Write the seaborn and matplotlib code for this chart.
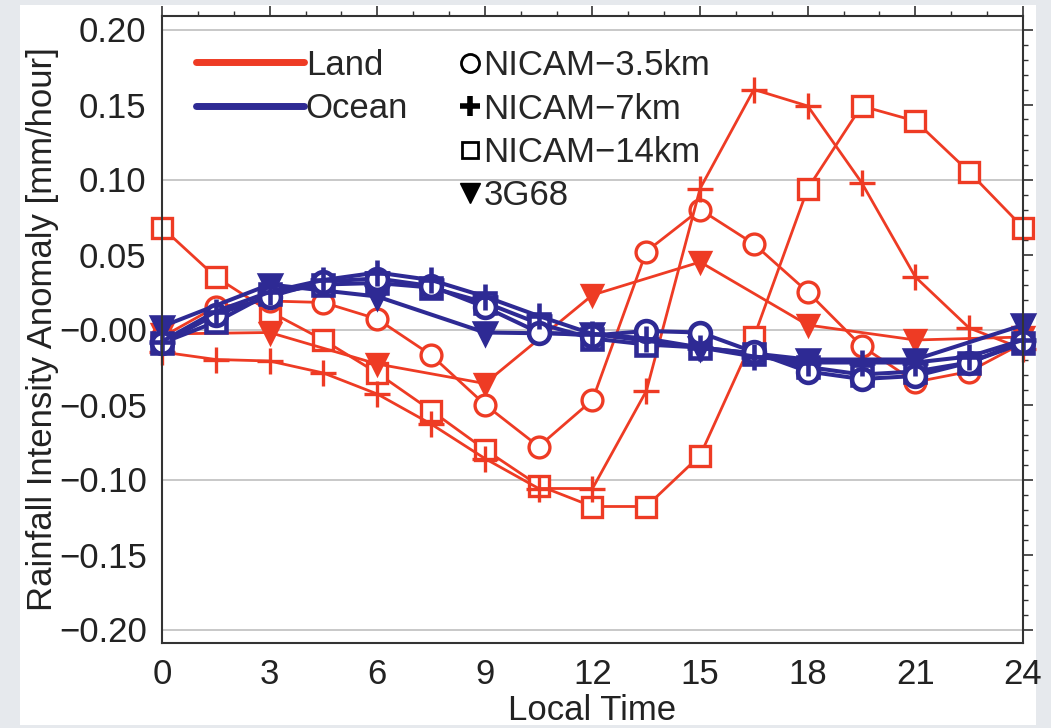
import numpy as np
import pandas as pd
import matplotlib
matplotlib.use('Agg')
import matplotlib.pyplot as plt
import seaborn as sns
from matplotlib.lines import Line2D
from matplotlib.patches import Rectangle
from matplotlib.ticker import MultipleLocator, FixedLocator

# -------------------------------------------------------
# Data
# -------------------------------------------------------
hours = [0, 1.5, 3, 4.5, 6, 7.5, 9, 10.5, 12, 13.5, 15, 16.5, 18, 19.5, 21, 22.5, 24]
hours_3h = [0, 3, 6, 9, 12, 15, 18, 21, 24]   # 3G68 is 3-hourly

land_nicam35 = [-0.005, 0.015, 0.019, 0.018, 0.007, -0.017, -0.050, -0.078, -0.047,
                0.052, 0.080, 0.057, 0.025, -0.011, -0.035, -0.028, -0.009]
land_nicam7 = [-0.015, -0.020, -0.021, -0.029, -0.043, -0.063, -0.086, -0.106, -0.106,
               -0.041, 0.094, 0.160, 0.149, 0.098, 0.035, 0.001, -0.013]
land_nicam14 = [0.068, 0.035, 0.012, -0.007, -0.029, -0.054, -0.080, -0.104, -0.118,
                -0.118, -0.084, -0.005, 0.094, 0.149, 0.139, 0.105, 0.068]
land_3g68 = [-0.003, -0.002, -0.023, -0.036, 0.023, 0.045, 0.003, -0.007, -0.005]

ocean_nicam35 = [-0.009, 0.010, 0.022, 0.032, 0.034, 0.029, 0.015, -0.002, -0.004,
                 -0.001, -0.002, -0.015, -0.028, -0.033, -0.031, -0.022, -0.008]
ocean_nicam7 = [-0.008, 0.012, 0.025, 0.033, 0.038, 0.033, 0.022, 0.009, -0.003,
                -0.006, -0.012, -0.018, -0.022, -0.022, -0.022, -0.018, -0.007]
ocean_nicam14 = [-0.009, 0.005, 0.024, 0.030, 0.031, 0.028, 0.018, 0.004, -0.006,
                 -0.010, -0.012, -0.016, -0.025, -0.030, -0.028, -0.022, -0.009]
ocean_3g68 = [0.002, 0.030, 0.022, -0.002, -0.003, -0.012, -0.020, -0.020, 0.003]

surfaces = ['Land', 'Ocean']
models = ['NICAM\u22123.5km', 'NICAM\u22127km', 'NICAM\u221214km', '3G68']
model_hours = [hours, hours, hours, hours_3h]
series = {
    'Land': [land_nicam35, land_nicam7, land_nicam14, land_3g68],
    'Ocean': [ocean_nicam35, ocean_nicam7, ocean_nicam14, ocean_3g68],
}

yticks = [-0.20, -0.15, -0.10, -0.05, 0.0, 0.05, 0.10, 0.15, 0.20]
ytick_labels = ['\u22120.20', '\u22120.15', '\u22120.10', '\u22120.05', '\u22120.00',
                '0.05', '0.10', '0.15', '0.20']
xticks = [0, 3, 6, 9, 12, 15, 18, 21, 24]

rows = []
for s in surfaces:
    for m, hrs, vals in zip(models, model_hours, series[s]):
        for h, v in zip(hrs, vals):
            rows.append({'surface': s, 'model': m, 'hour': h, 'anomaly': v})
df = pd.DataFrame(rows)

# -------------------------------------------------------
# Styles
# -------------------------------------------------------
sns.set_style('white')
plt.rcParams['font.family'] = ['Liberation Sans', 'DejaVu Sans']
FS = 25

colors = {'Land': '#ee3b24', 'Ocean': '#2e2a94'}
line_w = {'Land': 2.0, 'Ocean': 2.9}
edge_w = {'Land': 2.4, 'Ocean': 3.3}
marker_style = {
    models[0]: dict(marker='o', ms=15, filled=False, z=6),
    models[1]: dict(marker='+', ms=19, filled=True, z=7),
    models[2]: dict(marker='s', ms=14, filled=False, z=4),
    models[3]: dict(marker='v', ms=15, filled=True, z=5),
}

fig = plt.figure(figsize=(10.51, 7.28), dpi=100)
fig.patch.set_facecolor('#e6e9ed')
fig.patches.append(Rectangle((20 / 1051, 3 / 728), 1016 / 1051, 720 / 728,
                             transform=fig.transFigure, facecolor='white',
                             edgecolor='none', zorder=-10))
ax = fig.add_axes([162 / 1051, 85 / 728, 861 / 1051, 627 / 728])
ax.set_zorder(1)

for s in surfaces:
    c = colors[s]
    base = 0 if s == 'Land' else 10
    for m in models:
        st = marker_style[m]
        sub = df[(df['surface'] == s) & (df['model'] == m)]
        sns.lineplot(data=sub, x='hour', y='anomaly', ax=ax, color=c,
                     lw=line_w[s], marker=st['marker'], markersize=st['ms'],
                     markerfacecolor=c if st['filled'] else 'white',
                     markeredgecolor=c, markeredgewidth=edge_w[s],
                     zorder=base + st['z'], clip_on=False, legend=False)

# -------------------------------------------------------
# Axes formatting
# -------------------------------------------------------
ax.set_xlim(0, 24)
ax.set_ylim(-0.209, 0.209)
ax.xaxis.set_major_locator(FixedLocator(xticks))
ax.xaxis.set_minor_locator(MultipleLocator(1))
ax.yaxis.set_major_locator(FixedLocator(yticks))
ax.yaxis.set_minor_locator(MultipleLocator(0.01))
ax.set_yticklabels(ytick_labels)
ax.set_xticklabels([str(t) for t in xticks])

for y in [-0.2, -0.1, 0.0, 0.1, 0.2]:
    ax.axhline(y, color='#c8c8c8', lw=1.4, zorder=1)

ax.tick_params(which='both', direction='out', top=True, right=True,
               labeltop=False, labelright=False, color='#333333',
               labelsize=FS, labelcolor='#222222')
ax.tick_params(which='major', length=7, width=1.2, pad=4)
ax.tick_params(which='minor', length=3.5, width=1.0)
for sp in ax.spines.values():
    sp.set_color('#333333')
    sp.set_linewidth(1.5)
    sp.set_zorder(30)

ax.set_xlabel('Local Time', fontsize=FS, color='#222222', labelpad=2)
ax.set_ylabel('Rainfall Intensity Anomaly [mm/hour]', fontsize=FS,
              color='#222222', labelpad=0)

# -------------------------------------------------------
# Legends
# -------------------------------------------------------
surf_handles = [Line2D([], [], color=colors[s], lw=5) for s in surfaces]
leg1 = ax.legend(surf_handles, surfaces, loc='upper left',
                 bbox_to_anchor=(0.04, 0.948), frameon=False, fontsize=FS,
                 handlelength=3.1, handletextpad=0.05, labelspacing=0.3,
                 borderpad=0, borderaxespad=0)
ax.add_artist(leg1)

mk_handles = [
    Line2D([], [], ls='none', marker='o', ms=13, mfc='white', mec='black', mew=2),
    Line2D([], [], ls='none', marker='+', ms=15, mec='black', mew=4),
    Line2D([], [], ls='none', marker='s', ms=11, mfc='white', mec='black', mew=2),
    Line2D([], [], ls='none', marker='v', ms=14, mfc='black', mec='black'),
]
ax.legend(mk_handles, models, loc='upper left', bbox_to_anchor=(0.343, 0.947),
          frameon=False, fontsize=FS, handlelength=0.75, handletextpad=0.0,
          labelspacing=0.3, borderpad=0, borderaxespad=0)

fig.savefig('out.png', dpi=100, facecolor=fig.get_facecolor())
